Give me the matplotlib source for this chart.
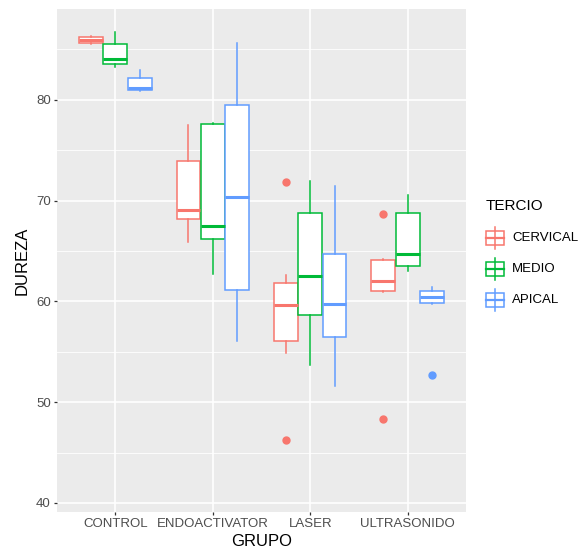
import numpy as np
import matplotlib.pyplot as plt
from matplotlib.patches import Rectangle
from matplotlib.ticker import MultipleLocator

plt.rcParams['font.family'] = ['Liberation Sans', 'DejaVu Sans']

grupos = ['CONTROL', 'ENDOACTIVATOR', 'LASER', 'ULTRASONIDO']
tercios = ['CERVICAL', 'MEDIO', 'APICAL']
colores = ['#F8766D', '#00BA38', '#619CFF']

# five-number summaries, one list per tercio, in grupo order
cervical_min = [85.5, 65.9, 54.9, 60.9]
cervical_q1 = [85.6, 68.2, 56.1, 61.0]
cervical_med = [85.9, 69.1, 59.6, 62.0]
cervical_q3 = [86.2, 73.9, 61.8, 64.1]
cervical_max = [86.3, 77.5, 62.6, 64.2]
cervical_out = [[], [], [71.8, 46.2], [68.7, 48.3]]

medio_min = [83.2, 62.7, 53.7, 63.0]
medio_q1 = [83.5, 66.2, 58.6, 63.5]
medio_med = [84.0, 67.5, 62.5, 64.7]
medio_q3 = [85.5, 77.6, 68.8, 68.8]
medio_max = [86.7, 77.7, 71.9, 70.5]
medio_out = [[], [], [], []]

apical_min = [80.9, 56.1, 51.6, 59.7]
apical_q1 = [81.0, 61.1, 56.5, 59.8]
apical_med = [81.2, 70.3, 59.7, 60.4]
apical_q3 = [82.2, 79.5, 64.7, 61.0]
apical_max = [82.9, 85.6, 71.4, 61.4]
apical_out = [[], [], [], [52.7]]

series = [
    (cervical_min, cervical_q1, cervical_med, cervical_q3, cervical_max, cervical_out),
    (medio_min, medio_q1, medio_med, medio_q3, medio_max, medio_out),
    (apical_min, apical_q1, apical_med, apical_q3, apical_max, apical_out),
]

W, H = 587, 550
fig = plt.figure(figsize=(W / 100, H / 100), dpi=100)
ax = fig.add_axes([57 / W, 1 - 512 / H, (466 - 57) / W, (512 - 9) / H])
ax.set_facecolor('#EBEBEB')

x = np.arange(1, len(grupos) + 1)
bw = 0.25
for i, (mn, q1, med, q3, mx, out) in enumerate(series):
    stats = [dict(whislo=mn[j], q1=q1[j], med=med[j], q3=q3[j], whishi=mx[j],
                  fliers=out[j]) for j in range(len(grupos))]
    c = colores[i]
    ax.bxp(stats, positions=x + (i - 1) * bw, widths=bw * 0.98,
           patch_artist=True, showcaps=False, manage_ticks=False,
           boxprops=dict(facecolor='white', edgecolor=c, linewidth=1.1),
           whiskerprops=dict(color=c, linewidth=1.1),
           medianprops=dict(color=c, linewidth=2.2, solid_capstyle='butt'),
           flierprops=dict(marker='o', markerfacecolor=c, markeredgecolor=c,
                           markersize=5, linestyle='none'),
           zorder=3)

ax.set_xlim(0.4, 4.6)
ax.set_ylim(39.1, 89.0)
ax.set_xticks(x)
ax.set_xticklabels(grupos)
ax.yaxis.set_major_locator(MultipleLocator(10))
ax.yaxis.set_minor_locator(MultipleLocator(5))
ax.grid(which='major', color='white', linewidth=1.2, zorder=0)
ax.grid(which='minor', axis='y', color='white', linewidth=0.6, zorder=0)
ax.set_axisbelow(True)
for s in ax.spines.values():
    s.set_visible(False)
ax.tick_params(which='major', length=2.5, width=0.9, color='#333333',
               labelcolor='#4D4D4D', labelsize=9.5, pad=2)
ax.tick_params(which='minor', length=0)

ax.set_xlabel('GRUPO', fontsize=12)
ax.set_ylabel('DUREZA', fontsize=12)
ax.xaxis.set_label_coords(0.5, -(542 - 512) / (512 - 9))
ax.xaxis.label.set_va('center')
ax.yaxis.set_label_coords(-(57 - 22) / (466 - 57), 0.5)
ax.yaxis.label.set_va('center')

# legend with boxplot key glyphs
fig.text(486 / W, 1 - 206 / H, 'TERCIO', fontsize=11, ha='left', va='center')
lg = fig.add_axes([0, 0, 1, 1], zorder=5)
lg.set_xlim(0, W)
lg.set_ylim(H, 0)
lg.axis('off')
key_y = [238, 269, 300]
for c, lab, ky in zip(colores, tercios, key_y):
    lg.plot([495, 495], [ky - 11, ky + 11], color=c, linewidth=1.1)
    lg.add_patch(Rectangle((486, ky - 7), 18, 14, facecolor='white',
                           edgecolor=c, linewidth=1.1))
    lg.plot([486, 504], [ky, ky], color=c, linewidth=1.6)
    lg.text(512, ky, lab, fontsize=9.5, color='black', ha='left', va='center')

fig.savefig('out.png', dpi=100)
